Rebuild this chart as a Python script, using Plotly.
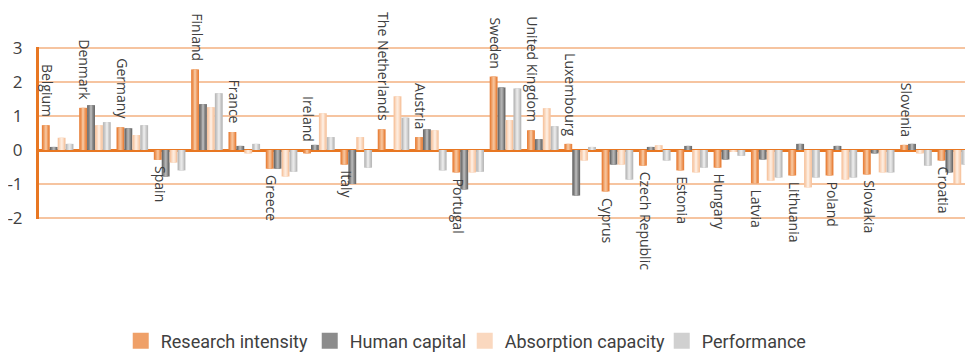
import plotly.graph_objects as go

countries = ["Belgium", "Denmark", "Germany", "Spain", "Finland", "France", "Greece",
             "Ireland", "Italy", "The Netherlands", "Austria", "Portugal", "Sweden",
             "United Kingdom", "Luxembourg", "Cyprus", "Czech Republic", "Estonia",
             "Hungary", "Latvia", "Lithuania", "Poland", "Slovakia", "Slovenia", "Croatia"]

research_intensity = [0.73, 1.24, 0.67, -0.29, 2.37, 0.53, -0.55, -0.10, -0.43, 0.61,
                      0.38, -0.66, 2.16, 0.58, 0.18, -1.22, -0.46, -0.60, -0.52, -0.98,
                      -0.75, -0.75, -0.72, 0.15, -0.31]
human_capital = [0.09, 1.32, 0.64, -0.78, 1.35, 0.12, -0.55, 0.15, -1.00, 0.00,
                 0.61, -1.16, 1.84, 0.32, -1.34, -0.43, 0.09, 0.12, -0.28, -0.28,
                 0.18, 0.12, -0.10, 0.18, -0.66]
absorption_capacity = [0.36, 0.73, 0.44, -0.37, 1.26, -0.10, -0.78, 1.08, 0.38, 1.58,
                       0.58, -0.66, 0.88, 1.23, -0.31, -0.43, 0.14, -0.66, -0.05, -0.90,
                       -1.10, -0.87, -0.66, -0.10, -0.98]
performance = [0.18, 0.82, 0.73, -0.60, 1.67, 0.18, -0.64, 0.38, -0.52, 0.95,
               -0.60, -0.64, 1.81, 0.70, 0.09, -0.87, -0.31, -0.52, -0.17, -0.81,
               -0.81, -0.81, -0.66, -0.46, -0.43]

series_names = ["Research intensity", "Human capital", "Absorption capacity", "Performance"]
series_values = [research_intensity, human_capital, absorption_capacity, performance]
# (edge, mid, centre) shades to mimic the gradient fill
series_shades = [
    ("#E9843F", "#EFA068", "#F6C197"),
    ("#6E6E6E", "#8C8C8C", "#B2B2B2"),
    ("#F7C6A2", "#FAD8BF", "#FDEBDD"),
    ("#BBBBBB", "#D0D0D0", "#E8E8E8"),
]
legend_entry_widths = [144, 110, 152, 100]
y_ticks = [-2, -1, 0, 1, 2, 3]

x_idx = list(range(len(countries)))
BW = 0.212
GROUP_LEFT = -0.424

fig = go.Figure()
for k, (name, vals, shades) in enumerate(zip(series_names, series_values, series_shades)):
    left = GROUP_LEFT + k * BW
    layers = [(BW, 0.0), (BW * 0.62, BW * 0.19), (BW * 0.28, BW * 0.36)]
    for j, (w, inset) in enumerate(layers):
        fig.add_trace(go.Bar(
            x=x_idx, y=vals, name=name, legendgroup=name,
            showlegend=False,
            width=w, offset=left + inset,
            marker=dict(color=shades[j], line=dict(width=0)),
            hoverinfo="skip" if j else None,
        ))

# legend keys (larger square swatches than bar legend symbols)
for name, shades, lw in zip(series_names, series_shades, legend_entry_widths):
    fig.add_trace(go.Scatter(
        x=[None], y=[None], mode="markers", name=name, legendgroup=name,
        legendwidth=lw,
        marker=dict(symbol="square", size=16, color=shades[1], line=dict(width=0)),
    ))

# rotated country labels beside the Research-intensity bar
for i, (c, v) in enumerate(zip(countries, research_intensity)):
    above = v >= -0.15
    fig.add_annotation(
        x=i + GROUP_LEFT + BW / 2, y=max(v, 0) if above else v,
        xref="x", yref="y", text=c, showarrow=False, textangle=90,
        xanchor="center", yanchor="bottom" if above else "top",
        xshift=2, yshift=6 if above else -4,
        font=dict(family="Open Sans", size=14, color="#404040"),
    )

fig.update_layout(
    width=965, height=347,
    margin=dict(l=31, r=1, t=39, b=136, autoexpand=False),
    paper_bgcolor="white", plot_bgcolor="white",
    barmode="overlay",
    xaxis=dict(range=[-0.5, len(countries) - 0.5], showticklabels=False,
               showgrid=False, zeroline=False, showline=False, ticks=""),
    yaxis=dict(range=[-2.03, 3.03], tickvals=y_ticks,
               ticktext=[str(t) for t in y_ticks],
               showgrid=True, gridcolor="#F6C4A0", gridwidth=1.5,
               zeroline=True, zerolinecolor="#E87722", zerolinewidth=3,
               showline=True, linecolor="#E87722", linewidth=3,
               ticks="", ticklabelstandoff=10, automargin=False,
               tickfont=dict(family="Open Sans", size=17, color="#404040")),
    legend=dict(orientation="h", x=0.0876, xanchor="left",
                yref="container", y=0.04, yanchor="middle",
                itemsizing="trace",
                font=dict(family="Roboto", size=18, color="#404040"),
                bgcolor="rgba(0,0,0,0)", traceorder="normal"),
    showlegend=True,
)

fig.write_html("out.html")
